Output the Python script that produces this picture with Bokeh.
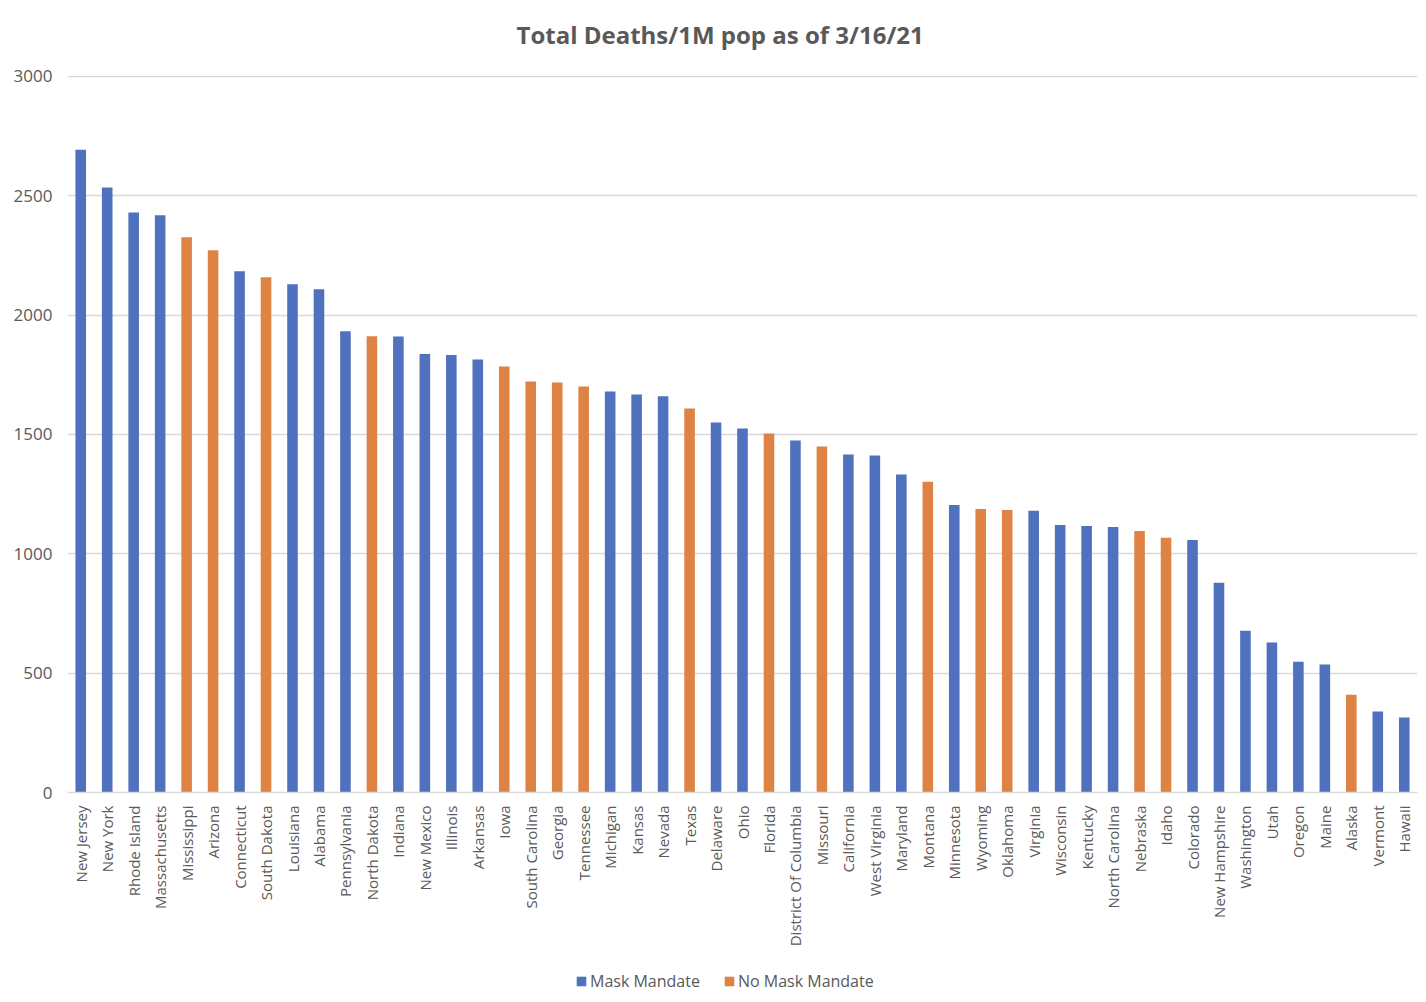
import math
from bokeh.plotting import figure
from bokeh.layouts import column
from bokeh.models import (FactorRange, Range1d, ColumnDataSource, Legend,
                          LegendItem, FixedTicker, Label)
from bokeh.embed import file_html
from bokeh.resources import INLINE

states = ["New Jersey", "New York", "Rhode Island", "Massachusetts", "Mississippi",
          "Arizona", "Connecticut", "South Dakota", "Louisiana", "Alabama",
          "Pennsylvania", "North Dakota", "Indiana", "New Mexico", "Illinois",
          "Arkansas", "Iowa", "South Carolina", "Georgia", "Tennessee",
          "Michigan", "Kansas", "Nevada", "Texas", "Delaware",
          "Ohio", "Florida", "District Of Columbia", "Missouri", "California",
          "West Virginia", "Maryland", "Montana", "Minnesota", "Wyoming",
          "Oklahoma", "Virginia", "Wisconsin", "Kentucky", "North Carolina",
          "Nebraska", "Idaho", "Colorado", "New Hampshire", "Washington",
          "Utah", "Oregon", "Maine", "Alaska", "Vermont", "Hawaii"]

deaths = [2693, 2535, 2430, 2418, 2326,
          2272, 2184, 2159, 2129, 2108,
          1933, 1912, 1910, 1837, 1833,
          1814, 1785, 1722, 1718, 1701,
          1680, 1668, 1660, 1609, 1550,
          1525, 1504, 1475, 1450, 1416,
          1412, 1332, 1302, 1205, 1188,
          1184, 1180, 1121, 1117, 1112,
          1096, 1067, 1058, 879, 678,
          628, 548, 536, 410, 339, 314]

M, N = "Mask Mandate", "No Mask Mandate"
mandate = [M, M, M, M, N,
           N, M, N, M, M,
           M, N, M, M, M,
           M, N, N, N, N,
           M, M, M, N, M,
           M, N, M, N, M,
           M, M, N, M, N,
           N, M, M, M, M,
           N, N, M, M, M,
           M, M, M, N, M, M]

series = [M, N]
series_colors = ["#4F71BE", "#DE8344"]
y_ticks = [0, 500, 1000, 1500, 2000, 2500, 3000]
title_text = "Total Deaths/1M pop as of 3/16/21"
TEXT = "#595959"


def strip(h, x_range, y_range):
    f = figure(x_range=x_range, y_range=y_range, width=1418, height=h,
               output_backend="svg", toolbar_location=None,
               min_border_left=67, min_border_right=1, min_border_top=0,
               min_border_bottom=0)
    f.xaxis.visible = False
    f.yaxis.visible = False
    f.grid.visible = False
    f.outline_line_color = None
    f.border_fill_color = "white"
    return f


# title strip
tt = strip(60, Range1d(0, 1), Range1d(0, 1))
tt.add_layout(Label(x=449, y=26, x_units="screen", y_units="screen",
                    text=title_text, text_font="Open Sans", text_font_style="bold",
                    text_font_size="24px", text_color=TEXT,
                    text_baseline="middle", text_align="left"))

x_range = FactorRange(factors=states)
p = figure(x_range=x_range, y_range=Range1d(0, 3004),
           width=1418, height=900, output_backend="svg", toolbar_location=None,
           min_border_left=67, min_border_right=1, min_border_top=15,
           min_border_bottom=168)
p.outline_line_color = None
p.background_fill_color = "white"
p.border_fill_color = "white"

sources = []
for s, c in zip(series, series_colors):
    idx = [i for i, m in enumerate(mandate) if m == s]
    src = ColumnDataSource(dict(state=[states[i] for i in idx],
                                val=[deaths[i] for i in idx]))
    sources.append(src)
    p.vbar(x="state", top="val", width=0.4, source=src, fill_color=c,
           line_color=None)

p.xgrid.grid_line_color = None
p.ygrid.grid_line_color = "#D9D9D9"
p.ygrid.grid_line_width = 1.3
p.yaxis.ticker = FixedTicker(ticks=y_ticks)

p.yaxis.axis_line_color = None
p.yaxis.major_tick_line_color = None
p.yaxis.minor_tick_line_color = None
p.yaxis.major_label_text_font = "Open Sans"
p.yaxis.major_label_text_font_size = "17px"
p.yaxis.major_label_text_color = TEXT
p.yaxis.major_label_standoff = 9

p.xaxis.axis_line_color = "#D9D9D9"
p.xaxis.axis_line_width = 1.3
p.xaxis.major_tick_line_color = None
p.xaxis.minor_tick_line_color = None
p.xaxis.major_label_orientation = math.pi / 2
p.xaxis.major_label_text_font = "Open Sans"
p.xaxis.major_label_text_font_size = "15px"
p.xaxis.major_label_text_color = TEXT
p.xaxis.major_label_standoff = 7

# legend strip below the chart (same data, drawn out of view; only the legend shows)
lg = strip(40, x_range, Range1d(5000, 6000))
items = []
for s, c, src in zip(series, series_colors, sources):
    r = lg.vbar(x="state", top="val", width=0.4, source=src, fill_color=c,
                line_color=None)
    items.append(LegendItem(label=s, renderers=[r]))

legend = Legend(items=items, orientation="horizontal", location=(508, 8))
legend.border_line_color = None
legend.background_fill_alpha = 0
legend.label_text_font = "Open Sans"
legend.label_text_font_size = "16px"
legend.label_text_color = TEXT
legend.glyph_width = 12
legend.glyph_height = 12
legend.label_standoff = 3
legend.spacing = 23
legend.padding = 0
legend.margin = 0
lg.add_layout(legend)

layout = column(tt, p, lg, spacing=0)
open("out.html", "w").write(file_html(layout, INLINE))
